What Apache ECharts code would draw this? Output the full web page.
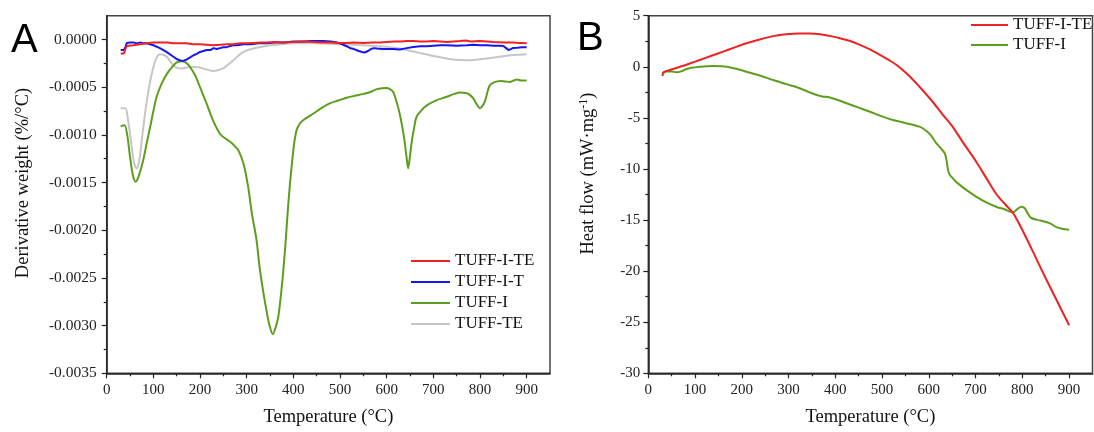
<!DOCTYPE html>
<html><head><meta charset="utf-8">
<script src="https://cdn.jsdelivr.net/npm/echarts@6/dist/echarts.min.js"></script>
<style>html,body{margin:0;padding:0;background:#fff}#c{width:1094px;height:432px}</style>
</head><body><div id="c"></div>
<script>
// ---------- tick labels ----------
const xMajor = [0,100,200,300,400,500,600,700,800,900];
const xMinor = [50,150,250,350,450,550,650,750,850];
const yAMajor = [-0.0035,-0.003,-0.0025,-0.002,-0.0015,-0.001,-0.0005,0];
const yAMinor = [-0.00325,-0.00275,-0.00225,-0.00175,-0.00125,-0.00075,-0.00025];
const yBMajor = [-30,-25,-20,-15,-10,-5,0,5];
const yBMinor = [-27.5,-22.5,-17.5,-12.5,-7.5,-2.5,2.5];

// ---------- Panel A: DTG (derivative weight, %/°C) ----------
// TUFF-I-TE
const aTeT = [30,37,40,43,57,71,86,100,114,130,143,157,171,185,200,214,228,243,257,272,286,300,315,330,343,360,380,400,420,443,460,480,500,514,530,550,570,586,600,615,630,643,657,672,686,700,715,729,743,757,770,780,800,815,830,850,870,885,900];
const aTeV = [-0.000147,-0.000147,-0.0001,-0.000067,-0.00006,-0.00005,-0.00004,-0.00003,-0.00003,-0.00003,-0.00004,-0.00004,-0.00004,-0.00005,-0.00005,-0.000055,-0.00006,-0.000055,-0.00005,-0.00005,-0.00004,-0.00004,-0.000035,-0.00003,-0.00003,-0.000025,-0.00003,-0.000025,-0.00002,-0.000025,-0.00003,-0.00003,-0.000035,-0.000035,-0.00003,-0.000035,-0.00003,-0.00003,-0.000025,-0.00002,-0.00002,-0.000015,-0.000015,-0.00002,-0.00002,-0.000015,-0.00002,-0.000025,-0.00002,-0.000015,-0.00001,-0.00002,-0.000015,-0.00002,-0.000025,-0.00003,-0.00003,-0.000035,-0.00004];
// TUFF-I-T
const aTT = [30,37,40,43,50,57,65,72,80,86,100,114,128,143,152,161,166,171,178,186,193,200,207,214,222,229,236,243,250,257,270,280,293,310,325,343,360,380,400,420,440,464,480,493,505,514,521,530,540,547,553,560,566,572,579,590,600,614,628,643,657,672,686,700,715,729,750,772,786,800,815,830,843,850,856,861,866,871,880,890,900];
const aTV = [-0.00011,-0.00011,-0.00008,-0.000036,-0.00003,-0.00003,-0.00004,-0.00003,-0.00004,-0.00004,-0.00006,-0.00009,-0.00013,-0.00018,-0.00021,-0.000224,-0.00022,-0.00021,-0.00019,-0.000165,-0.00015,-0.00013,-0.00012,-0.00011,-0.00011,-0.00009,-0.0001,-0.00009,-0.00008,-0.00008,-0.00006,-0.00006,-0.00005,-0.00005,-0.00004,-0.00004,-0.00003,-0.00003,-0.00002,-0.00002,-0.000015,-0.000015,-0.00002,-0.00003,-0.00005,-0.00007,-0.000088,-0.0001,-0.00012,-0.00013,-0.000136,-0.00012,-0.0001,-0.00009,-0.000094,-0.0001,-0.0001,-0.0001,-0.000105,-0.00009,-0.000078,-0.00007,-0.00007,-0.000065,-0.00006,-0.00006,-0.000065,-0.00006,-0.000055,-0.00006,-0.00006,-0.000065,-0.000065,-0.000067,-0.00009,-0.00011,-0.0001,-0.000088,-0.000085,-0.00008,-0.00008];
// TUFF-I
const aIT = [30,38,44,50,56,62,68,78,86,93,100,107,118,129,140,150,163,172,179,190,200,214,228,243,255,264,275,282,293,303,311,321,328,335,342,348,356,362,368,374,378,383,388,393,398,402,407,414,421,443,460,478,496,514,532,550,565,579,590,600,607,614,621,628,634,639,643,646,650,654,659,664,675,686,705,729,745,757,770,778,786,793,800,806,811,816,821,830,843,855,864,872,879,888,900];
const aIV = [-0.00091,-0.0009,-0.001,-0.00123,-0.00142,-0.00149,-0.00144,-0.00127,-0.00108,-0.00092,-0.00075,-0.0006,-0.00046,-0.00036,-0.00029,-0.00024,-0.000227,-0.00025,-0.00029,-0.00038,-0.0005,-0.00067,-0.00085,-0.00099,-0.00104,-0.00107,-0.00112,-0.00116,-0.0013,-0.00154,-0.00182,-0.0021,-0.0024,-0.00263,-0.00283,-0.00298,-0.00309,-0.00302,-0.0029,-0.00265,-0.00245,-0.00215,-0.0018,-0.0015,-0.00125,-0.00108,-0.00095,-0.00088,-0.000846,-0.000776,-0.00072,-0.00067,-0.00064,-0.00061,-0.00059,-0.00057,-0.00055,-0.00052,-0.00051,-0.000507,-0.00052,-0.00055,-0.00065,-0.00078,-0.00093,-0.00109,-0.00125,-0.00135,-0.00122,-0.00106,-0.00092,-0.00081,-0.00074,-0.00069,-0.00064,-0.0006,-0.00057,-0.000556,-0.00056,-0.00058,-0.00062,-0.00068,-0.00072,-0.00069,-0.00064,-0.00055,-0.00048,-0.00045,-0.000434,-0.00044,-0.000444,-0.00043,-0.00042,-0.00043,-0.00043];
// TUFF-TE
const aTTeT = [30,40,45,50,55,59,64,68,71,76,81,86,93,100,107,114,121,129,136,143,152,161,175,186,197,207,218,228,240,250,261,271,282,293,310,328,350,371,400,450,500,550,580,607,625,643,670,693,720,743,760,778,796,814,835,857,880,900];
const aTTeV = [-0.00072,-0.00072,-0.00082,-0.00099,-0.00118,-0.0013,-0.00135,-0.00131,-0.00123,-0.00102,-0.00082,-0.00064,-0.00044,-0.00029,-0.00019,-0.000154,-0.00016,-0.00018,-0.00023,-0.00027,-0.0003,-0.000304,-0.00029,-0.000287,-0.00029,-0.000304,-0.00032,-0.00033,-0.00032,-0.0003,-0.00026,-0.00022,-0.00017,-0.00013,-0.0001,-0.00008,-0.00006,-0.00005,-0.00004,-0.00004,-0.00005,-0.00006,-0.00007,-0.00008,-0.00009,-0.00011,-0.00014,-0.000165,-0.00019,-0.00021,-0.000215,-0.000217,-0.00021,-0.0002,-0.000185,-0.00017,-0.00016,-0.000154];

// ---------- Panel B: DSC heat flow (mW·mg-1) ----------
const bTeT = [30,33,40,53,65,70,75,90,110,135,160,185,210,240,267,295,324,345,367,390,410,430,450,474,500,515,531,555,580,605,630,650,673,700,723,745,766,780,790,809,830,851,875,900];
const bTeV = [-0.9,-0.5,-0.4,-0.22,-0.05,0.05,0.1,0.35,0.67,1.08,1.48,1.9,2.3,2.7,3.0,3.18,3.25,3.25,3.18,3.0,2.8,2.55,2.2,1.7,1.05,0.65,0.18,-0.75,-1.95,-3.25,-4.7,-5.8,-7.4,-9.2,-10.9,-12.5,-13.6,-14.3,-15.1,-16.8,-18.8,-20.8,-23.0,-25.3];
const bIT = [30,35,39,50,61,70,82,95,110,125,139,155,168,190,210,240,267,295,324,345,360,372,388,405,424,450,474,500,523,550,580,595,606,616,626,634,638,641,645,648,656,666,683,701,722,744,762,780,790,798,805,812,819,838,858,873,885,900];
const bIV = [-0.64,-0.55,-0.45,-0.45,-0.54,-0.45,-0.22,-0.08,0.0,0.06,0.08,0.05,0.0,-0.22,-0.48,-0.88,-1.3,-1.7,-2.1,-2.5,-2.76,-2.9,-3.0,-3.25,-3.57,-4.0,-4.4,-4.85,-5.2,-5.5,-5.86,-6.28,-6.8,-7.48,-8.0,-8.46,-9.2,-10.1,-10.6,-10.75,-11.15,-11.56,-12.15,-12.7,-13.25,-13.7,-13.95,-14.25,-13.9,-13.7,-13.85,-14.4,-14.8,-15.05,-15.3,-15.7,-15.85,-15.95];

const zip = (t, v) => t.map((x, i) => [x, v[i]]);
const SERIF = 'Liberation Serif';
const C = { red: '#ee2222', blue: '#1616f0', green: '#5e9e1e', gray: '#c6c6c6' };

function majorX(grid, name) {
  return { type: 'value', gridIndex: grid, min: 0, max: 950, position: 'bottom',
    name: name, nameLocation: 'middle', nameGap: 34,
    nameTextStyle: { fontFamily: SERIF, fontSize: 18.5, color: '#111' },
    axisLine: { show: true, onZero: false, lineStyle: { color: '#222', width: 1.5 } },
    axisTick: { show: true, inside: false, length: 5, customValues: xMajor, lineStyle: { color: '#222', width: 1.2 } },
    axisLabel: { customValues: xMajor, margin: 9, fontFamily: SERIF, fontSize: 15, color: '#222' },
    splitLine: { show: false } };
}
function minorX(grid) {
  return { type: 'value', gridIndex: grid, min: 0, max: 950, position: 'bottom',
    axisLine: { show: false, onZero: false }, axisLabel: { show: false }, splitLine: { show: false },
    axisTick: { show: true, length: 3, customValues: xMinor, lineStyle: { color: '#222', width: 1.2 } } };
}
function minorY(grid, min, max, vals) {
  return { type: 'value', gridIndex: grid, min: min, max: max, position: 'left',
    axisLine: { show: false, onZero: false }, axisLabel: { show: false }, splitLine: { show: false },
    axisTick: { show: true, length: 3, customValues: vals, lineStyle: { color: '#222', width: 1.2 } } };
}

const option = {
  backgroundColor: '#fff',
  animation: false,
  grid: [
    { left: 106.7, right: 544, top: 15.7, bottom: 58.7, show: true, borderColor: '#444', borderWidth: 1.5 },
    { left: 648.3, right: 1.5, top: 15.7, bottom: 58.7, show: true, borderColor: '#444', borderWidth: 1.5 }
  ],
  xAxis: [ majorX(0, 'Temperature (°C)'), minorX(0), majorX(1, 'Temperature (°C)'), minorX(1) ],
  yAxis: [
    { type: 'value', gridIndex: 0, min: -0.0035, max: 0.00025, position: 'left',
      name: 'Derivative weight (%/°C)', nameLocation: 'middle', nameGap: 74,
      nameTextStyle: { fontFamily: SERIF, fontSize: 18.5, color: '#111', padding: [0, 0, 0, 23] },
      axisLine: { show: true, onZero: false, lineStyle: { color: '#222', width: 1.5 } },
      axisTick: { show: true, length: 5, customValues: yAMajor, lineStyle: { color: '#222', width: 1.2 } },
      axisLabel: { customValues: yAMajor, margin: 10, fontFamily: SERIF, fontSize: 15.5, color: '#222', formatter: v => v.toFixed(4) },
      splitLine: { show: false } },
    minorY(0, -0.0035, 0.00025, yAMinor),
    { type: 'value', gridIndex: 1, min: -30, max: 5, position: 'left',
      name: 'Heat flow (mW·mg{sup|-1})', nameLocation: 'middle', nameGap: 50,
      nameTextStyle: { fontFamily: SERIF, fontSize: 18.5, color: '#111', padding: [0, 0, 0, 42],
        rich: { sup: { fontFamily: SERIF, fontSize: 12, color: '#111', padding: [0, 0, 8, 0] } } },
      axisLine: { show: true, onZero: false, lineStyle: { color: '#222', width: 1.5 } },
      axisTick: { show: true, length: 5, customValues: yBMajor, lineStyle: { color: '#222', width: 1.2 } },
      axisLabel: { customValues: yBMajor, margin: 8, fontFamily: SERIF, fontSize: 15, color: '#222' },
      splitLine: { show: false } },
    minorY(1, -30, 5, yBMinor)
  ],
  legend: [
    { data: ['TUFF-I-TE', 'TUFF-I-T', 'TUFF-I', 'TUFF-TE'], orient: 'vertical', left: 411, top: 252,
      icon: 'rect', itemWidth: 39, itemHeight: 2, itemGap: 3, padding: 0,
      textStyle: { fontFamily: SERIF, fontSize: 17, color: '#111', lineHeight: 18 } },
    { data: ['TUFF-I-TE ', 'TUFF-I '], orient: 'vertical', left: 971, top: 16,
      icon: 'rect', itemWidth: 37, itemHeight: 2, itemGap: 2, padding: 0,
      textStyle: { fontFamily: SERIF, fontSize: 17, color: '#111', lineHeight: 18 } }
  ],
  graphic: [
    { type: 'text', left: 11, top: 21, style: { text: 'A', font: '40px "Liberation Sans"', fill: '#000' } },
    { type: 'text', left: 577, top: 19, style: { text: 'B', font: '40px "Liberation Sans"', fill: '#000' } }
  ],
  series: [
    { name: 'TUFF-TE', type: 'line', xAxisIndex: 0, yAxisIndex: 0, data: zip(aTTeT, aTTeV), symbol: 'none', smooth: 0.3, color: C.gray, lineStyle: { width: 2, color: C.gray } },
    { name: 'TUFF-I', type: 'line', xAxisIndex: 0, yAxisIndex: 0, data: zip(aIT, aIV), symbol: 'none', smooth: 0.3, color: C.green, lineStyle: { width: 2, color: C.green } },
    { name: 'TUFF-I-T', type: 'line', xAxisIndex: 0, yAxisIndex: 0, data: zip(aTT, aTV), symbol: 'none', color: C.blue, lineStyle: { width: 2, color: C.blue } },
    { name: 'TUFF-I-TE', type: 'line', xAxisIndex: 0, yAxisIndex: 0, data: zip(aTeT, aTeV), symbol: 'none', color: C.red, lineStyle: { width: 2, color: C.red } },
    { name: 'TUFF-I ', type: 'line', xAxisIndex: 2, yAxisIndex: 2, data: zip(bIT, bIV), symbol: 'none', smooth: 0.3, color: C.green, lineStyle: { width: 2, color: C.green } },
    { name: 'TUFF-I-TE ', type: 'line', xAxisIndex: 2, yAxisIndex: 2, data: zip(bTeT, bTeV), symbol: 'none', smooth: 0.3, color: C.red, lineStyle: { width: 2, color: C.red } }
  ]
};
const chart = echarts.init(document.getElementById('c'), null, { renderer: 'canvas' });
chart.setOption(option);
</script>
</body></html>
